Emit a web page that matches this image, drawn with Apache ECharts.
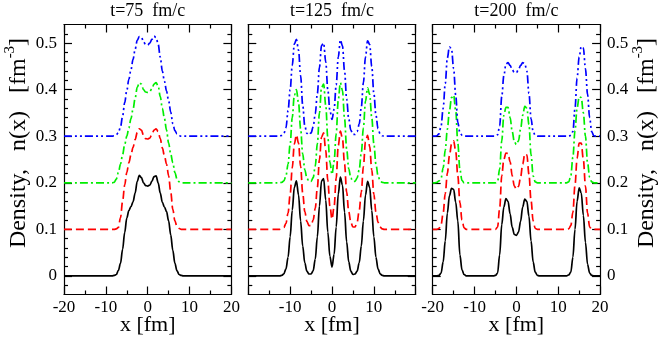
<!DOCTYPE html>
<html>
<head>
<meta charset="utf-8">
<script src="https://cdn.jsdelivr.net/npm/echarts@6/dist/echarts.min.js"></script>
<style>html,body{margin:0;padding:0;background:#fff}#c{width:664px;height:339px}</style>
</head>
<body>
<div id="c"></div>
<script>
// ---------- DATA ----------
const titles = ['t=75  fm/c', 't=125  fm/c', 't=200  fm/c'];
const yTicks = [0, 0.1, 0.2, 0.3, 0.4, 0.5];
const yMinorTicks = [-0.02, 0.02, 0.04, 0.06, 0.08, 0.12, 0.14, 0.16, 0.18, 0.22, 0.24, 0.26, 0.28, 0.32, 0.34, 0.36, 0.38, 0.42, 0.44, 0.46, 0.48, 0.52];

// Panel 1 (t=75 fm/c)
const x1 = [-20, -9, -8.5, -8, -7.5, -7, -6.5, -6, -5.5, -5, -4.5, -4, -3.5, -3, -2.5, -2, -1.5, -1, -0.5, 0, 0.5, 1, 1.5, 2, 2.5, 3, 3.5, 4, 4.5, 5, 5.5, 6, 6.5, 7, 7.5, 8, 8.5, 9, 20];
const black1 = [0, 0, 0, 0.001, 0.003, 0.012, 0.027, 0.057, 0.093, 0.124, 0.14, 0.149, 0.159, 0.178, 0.203, 0.216, 0.211, 0.2, 0.194, 0.193, 0.195, 0.203, 0.213, 0.215, 0.2, 0.178, 0.158, 0.148, 0.138, 0.118, 0.088, 0.055, 0.027, 0.011, 0.003, 0.001, 0, 0, 0];
const red1 = [0.1, 0.1, 0.1, 0.1, 0.101, 0.104, 0.125, 0.16, 0.195, 0.222, 0.243, 0.26, 0.276, 0.293, 0.308, 0.316, 0.313, 0.302, 0.295, 0.294, 0.296, 0.304, 0.313, 0.316, 0.31, 0.295, 0.275, 0.258, 0.24, 0.215, 0.18, 0.143, 0.118, 0.106, 0.102, 0.1, 0.1, 0.1, 0.1];
const green1 = [0.2, 0.2, 0.2, 0.201, 0.208, 0.222, 0.24, 0.26, 0.282, 0.3, 0.318, 0.338, 0.358, 0.382, 0.405, 0.415, 0.412, 0.4, 0.395, 0.394, 0.396, 0.402, 0.412, 0.415, 0.408, 0.385, 0.36, 0.338, 0.313, 0.285, 0.262, 0.243, 0.222, 0.208, 0.202, 0.2, 0.2, 0.2, 0.2];
const blue1 = [0.3, 0.3, 0.3, 0.301, 0.303, 0.308, 0.32, 0.343, 0.372, 0.398, 0.422, 0.443, 0.465, 0.487, 0.506, 0.514, 0.513, 0.503, 0.497, 0.496, 0.5, 0.508, 0.515, 0.512, 0.498, 0.47, 0.44, 0.418, 0.397, 0.376, 0.352, 0.327, 0.312, 0.305, 0.301, 0.3, 0.3, 0.3, 0.3];

// Panel 2 (t=125 fm/c)
const x2 = [-20, -13, -12.5, -12, -11.5, -11, -10.5, -10, -9.5, -9, -8.5, -8, -7.5, -7, -6.5, -6, -5.5, -5, -4.5, -4, -3.5, -3, -2.5, -2, -1.5, -1, -0.5, 0, 0.5, 1, 1.5, 2, 2.5, 3, 3.5, 4, 4.5, 5, 5.5, 6, 6.5, 7, 7.5, 8, 8.5, 9, 9.5, 10, 10.5, 11, 11.5, 12, 12.5, 13, 20];
const black2 = [0, 0, 0, 0.001, 0.0045, 0.015, 0.04, 0.084, 0.141, 0.19, 0.204, 0.174, 0.118, 0.064, 0.028, 0.01, 0.004, 0.004, 0.011, 0.036, 0.084, 0.15, 0.204, 0.209, 0.163, 0.094, 0.042, 0.019, 0.046, 0.105, 0.176, 0.212, 0.195, 0.137, 0.073, 0.03, 0.01, 0.003, 0.004, 0.01, 0.028, 0.064, 0.118, 0.173, 0.203, 0.19, 0.141, 0.084, 0.04, 0.015, 0.0045, 0.001, 0, 0, 0];
const red2 = [0.1, 0.1, 0.1, 0.101, 0.104, 0.113, 0.135, 0.175, 0.232, 0.283, 0.303, 0.285, 0.235, 0.178, 0.138, 0.117, 0.108, 0.108, 0.12, 0.145, 0.19, 0.25, 0.298, 0.307, 0.27, 0.205, 0.15, 0.122, 0.148, 0.21, 0.28, 0.311, 0.295, 0.24, 0.18, 0.138, 0.115, 0.105, 0.105, 0.115, 0.14, 0.18, 0.235, 0.288, 0.302, 0.278, 0.228, 0.175, 0.137, 0.115, 0.105, 0.101, 0.1, 0.1, 0.1];
const green2 = [0.2, 0.2, 0.2, 0.201, 0.204, 0.215, 0.24, 0.283, 0.34, 0.388, 0.4, 0.372, 0.316, 0.262, 0.228, 0.21, 0.203, 0.203, 0.211, 0.236, 0.284, 0.35, 0.405, 0.412, 0.367, 0.297, 0.245, 0.218, 0.246, 0.305, 0.378, 0.415, 0.398, 0.338, 0.273, 0.23, 0.21, 0.203, 0.203, 0.21, 0.228, 0.264, 0.318, 0.375, 0.404, 0.39, 0.34, 0.284, 0.24, 0.215, 0.204, 0.201, 0.2, 0.2, 0.2];
const blue2 = [0.3, 0.3, 0.3, 0.302, 0.306, 0.318, 0.355, 0.4, 0.452, 0.498, 0.508, 0.485, 0.43, 0.367, 0.322, 0.306, 0.303, 0.307, 0.32, 0.348, 0.392, 0.448, 0.495, 0.5, 0.46, 0.4, 0.355, 0.336, 0.358, 0.41, 0.47, 0.507, 0.494, 0.44, 0.38, 0.337, 0.313, 0.304, 0.304, 0.31, 0.326, 0.362, 0.415, 0.47, 0.505, 0.497, 0.45, 0.392, 0.345, 0.316, 0.305, 0.301, 0.3, 0.3, 0.3];

// Panel 3 (t=200 fm/c)
const x3 = [-20, -19.5, -19, -18.5, -18, -17.5, -17, -16.5, -16, -15.5, -15, -14.5, -14, -13.5, -13, -12.5, -12, -11.5, -11,
  -6, -5.5, -5, -4.5, -4, -3.5, -3, -2.5, -2, -1.5, -1, -0.5, 0, 0.5, 1, 1.5, 2, 2.5, 3, 3.5, 4, 4.5, 5, 5.5, 6,
  11, 11.5, 12, 12.5, 13, 13.5, 14, 14.5, 15, 15.5, 16, 16.5, 17, 17.5, 18, 18.5, 19, 19.5, 20];
const black3 = [0, 0, 0, 0.001, 0.006, 0.03, 0.075, 0.135, 0.172, 0.188, 0.186, 0.158, 0.118, 0.045, 0.013, 0.003, 0, 0, 0,
  0, 0, 0.001, 0.006, 0.045, 0.11, 0.148, 0.166, 0.16, 0.133, 0.104, 0.089, 0.087, 0.094, 0.117, 0.148, 0.165, 0.16, 0.128, 0.075, 0.03, 0.008, 0.001, 0, 0,
  0, 0, 0, 0.002, 0.008, 0.04, 0.1, 0.16, 0.189, 0.178, 0.13, 0.072, 0.025, 0.006, 0.001, 0, 0, 0, 0];
const red3 = [0.1, 0.1, 0.1, 0.102, 0.11, 0.135, 0.177, 0.22, 0.258, 0.283, 0.29, 0.268, 0.215, 0.158, 0.12, 0.103, 0.1, 0.1, 0.1,
  0.1, 0.1, 0.1, 0.105, 0.145, 0.215, 0.25, 0.264, 0.263, 0.245, 0.215, 0.193, 0.186, 0.192, 0.212, 0.24, 0.262, 0.26, 0.218, 0.162, 0.118, 0.102, 0.1, 0.1, 0.1,
  0.1, 0.1, 0.1, 0.101, 0.108, 0.137, 0.195, 0.252, 0.285, 0.285, 0.25, 0.193, 0.135, 0.105, 0.1, 0.1, 0.1, 0.1, 0.1];
const green3 = [0.2, 0.2, 0.201, 0.204, 0.21, 0.232, 0.27, 0.315, 0.355, 0.383, 0.388, 0.355, 0.285, 0.228, 0.205, 0.2, 0.2, 0.2, 0.2,
  0.2, 0.2, 0.2, 0.203, 0.23, 0.29, 0.345, 0.362, 0.362, 0.34, 0.31, 0.288, 0.282, 0.29, 0.315, 0.345, 0.364, 0.36, 0.325, 0.26, 0.215, 0.202, 0.2, 0.2, 0.2,
  0.2, 0.2, 0.2, 0.202, 0.215, 0.255, 0.312, 0.36, 0.385, 0.383, 0.35, 0.3, 0.243, 0.212, 0.202, 0.2, 0.2, 0.2, 0.2];
const blue3 = [0.3, 0.3, 0.301, 0.305, 0.322, 0.36, 0.413, 0.468, 0.492, 0.487, 0.445, 0.388, 0.33, 0.308, 0.302, 0.3, 0.3, 0.3, 0.3,
  0.3, 0.3, 0.3, 0.303, 0.322, 0.385, 0.43, 0.455, 0.458, 0.452, 0.443, 0.437, 0.437, 0.443, 0.452, 0.458, 0.456, 0.44, 0.392, 0.338, 0.31, 0.302, 0.3, 0.3, 0.3,
  0.3, 0.3, 0.3, 0.3, 0.302, 0.31, 0.36, 0.425, 0.47, 0.493, 0.49, 0.445, 0.39, 0.34, 0.31, 0.301, 0.3, 0.3, 0.3];

// ---------- CHART ----------
const FONT = 'Liberation Serif';
const panels = [
  {x: x1, curves: [black1, red1, green1, blue1]},
  {x: x2, curves: [black2, red2, green2, blue2]},
  {x: x3, curves: [black3, red3, green3, blue3]}
];
const curveStyles = [
  {color: '#000000', type: 'solid'},
  {color: '#ff0000', type: [8, 4]},
  {color: '#00ee00', type: [8, 3, 2, 3]},
  {color: '#0000ff', type: [8, 3, 2, 3, 2, 3]}
];
const gridLefts = [64, 248.3, 432.7];
const gridW = 167.4;
const grids = gridLefts.map(l => ({left: l, top: 24.5, width: gridW, height: 270, outerBoundsMode: 'none', containLabel: false}));

const lineBlack = {color: '#000', width: 1.2};
const xAxes = [], yAxes = [], series = [];
panels.forEach((p, gi) => {
  const xLabelFmt = gi === 1 ? (v => (v === -20 || v === 20) ? '' : String(v)) : (v => String(v));
  const xCommon = {type: 'value', gridIndex: gi, min: -20, max: 20, interval: 10,
    axisLine: {show: true, onZero: false, lineStyle: lineBlack}, splitLine: {show: false}, minorSplitLine: {show: false},
    axisTick: {show: true, inside: true, length: 8, lineStyle: lineBlack},
    minorTick: {show: true, splitNumber: 2, length: 4, lineStyle: lineBlack}};
  xAxes.push(Object.assign({}, xCommon, {position: 'bottom',
    axisLabel: {show: true, formatter: xLabelFmt, fontSize: 17, fontFamily: FONT, color: '#000', margin: 5},
    name: 'x [fm]', nameLocation: 'middle', nameGap: 20, nameMoveOverlap: false,
    nameTextStyle: {fontSize: 22, fontFamily: FONT, color: '#000'}}));
  xAxes.push(Object.assign({}, xCommon, {position: 'top', axisLabel: {show: false}}));
  ['left', 'right'].forEach(side => {
    const showLab = (gi === 0 && side === 'left') || (gi === 2 && side === 'right');
    yAxes.push({type: 'value', gridIndex: gi, position: side, min: -0.04, max: 0.54,
      axisLine: {show: true, onZero: false, lineStyle: lineBlack}, splitLine: {show: false},
      axisTick: {show: true, inside: true, length: 8, customValues: yTicks, lineStyle: lineBlack},
      axisLabel: showLab ? {show: true, customValues: yTicks, formatter: v => v === 0 ? '0' : v.toFixed(1),
        fontSize: 17, fontFamily: FONT, color: '#000', margin: 7} : {show: false}});
    yAxes.push({type: 'value', gridIndex: gi, position: side, offset: 0, min: -0.04, max: 0.54,
      axisLine: {show: false, onZero: false}, splitLine: {show: false},
      axisTick: {show: true, inside: true, length: 4, customValues: yMinorTicks, lineStyle: lineBlack},
      axisLabel: {show: false}});
  });
  p.curves.forEach((ys, ci) => {
    series.push({type: 'line', xAxisIndex: gi * 2, yAxisIndex: gi * 4,
      data: p.x.map((xv, j) => [xv, ys[j]]), showSymbol: false, symbol: 'none',
      smooth: 0.35, smoothMonotone: 'x', clip: true,
      lineStyle: {color: curveStyles[ci].color, type: curveStyles[ci].type, width: 1.7},
      z: 2 + ci});
  });
});

const ylab = {
  text: '{a|Density,   n(x)   [fm}{s|-3}{a|]}',
  rich: {
    a: {fontSize: 24, fontFamily: FONT, fill: '#000', lineHeight: 33},
    s: {fontSize: 15, fontFamily: FONT, fill: '#000', verticalAlign: 'top', lineHeight: 15}
  },
  align: 'center', verticalAlign: 'middle'
};

const option = {
  animation: false,
  backgroundColor: '#fff',
  title: titles.map((t, i) => ({text: t, left: gridLefts[i] + gridW / 2, top: 2, textAlign: 'center', padding: 0,
    textStyle: {fontSize: 18, fontFamily: FONT, fontWeight: 'normal', color: '#000'}})),
  grid: grids,
  xAxis: xAxes,
  yAxis: yAxes,
  series: series,
  graphic: [
    {type: 'text', x: 19, y: 143, rotation: Math.PI / 2, style: ylab},
    {type: 'text', x: 647, y: 143, rotation: Math.PI / 2, style: ylab}
  ]
};
const chart = echarts.init(document.getElementById('c'), null, {renderer: 'canvas'});
chart.setOption(option);
</script>
</body>
</html>
